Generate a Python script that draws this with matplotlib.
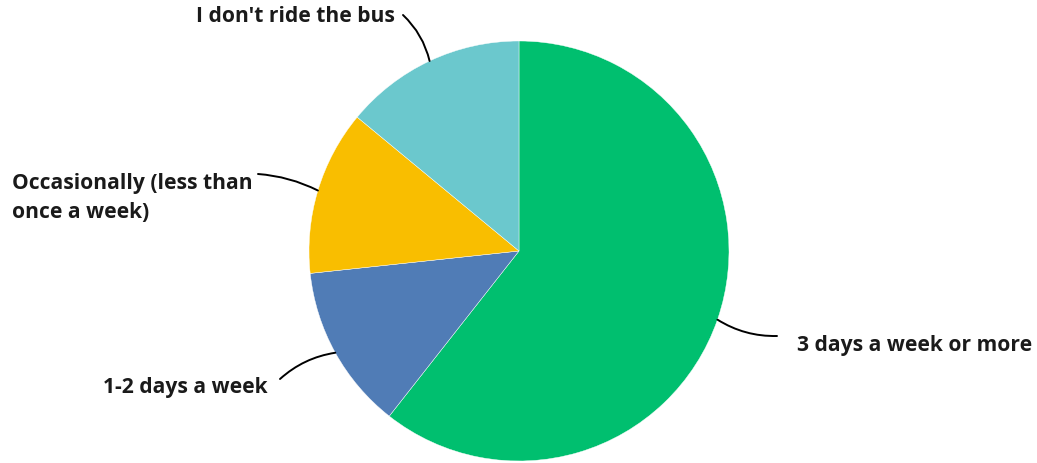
import numpy as np
import matplotlib.pyplot as plt

labels = ['3 days a week or more', '1-2 days a week',
          'Occasionally (less than\nonce a week)', "I don't ride the bus"]
shares = [60.6, 12.7, 12.7, 14.0]
colors = ['#00BF6F', '#507CB6', '#F9BE00', '#6BC8CD']

W, H = 1037, 463
fig = plt.figure(figsize=(W / 100, H / 100), dpi=100)
ax = fig.add_axes([0, 0, 1, 1])

cx, cy, r = 519, H - 251, 210
wedges, _ = ax.pie(shares, colors=colors, startangle=90, counterclock=False,
                   center=(cx, cy), radius=r, frame=True,
                   wedgeprops=dict(edgecolor='white', linewidth=0.3))
ax.set_xlim(0, W)
ax.set_ylim(0, H)
ax.set_aspect('equal')
ax.axis('off')

# text anchor (left edge, vertical centre), leader start, curvature
label_pos = [(797, 345), (103, 387), (12, 198), (196, 17)]
line_start = [(777, 336), (280, 379), (258, 174), (403, 15)]
line_rad = [-0.15, -0.15, -0.1, -0.15]

for w, lab, (tx, ty), (sx, sy), rad in zip(wedges, labels, label_pos, line_start, line_rad):
    mid = np.deg2rad((w.theta1 + w.theta2) / 2)
    ex, ey = cx + r * np.cos(mid), cy + r * np.sin(mid)
    ax.text(tx, H - ty, lab, ha='left', va='center', fontsize=15.1,
            fontweight='bold', family='Open Sans', color='#1a1a1a', linespacing=1.45)
    ax.annotate('', xy=(ex, ey), xytext=(sx, H - sy),
                arrowprops=dict(arrowstyle='-', color='black', lw=1.4,
                                shrinkA=0, shrinkB=0,
                                connectionstyle=f'arc3,rad={rad}'))

fig.savefig('out.png', dpi=100)
